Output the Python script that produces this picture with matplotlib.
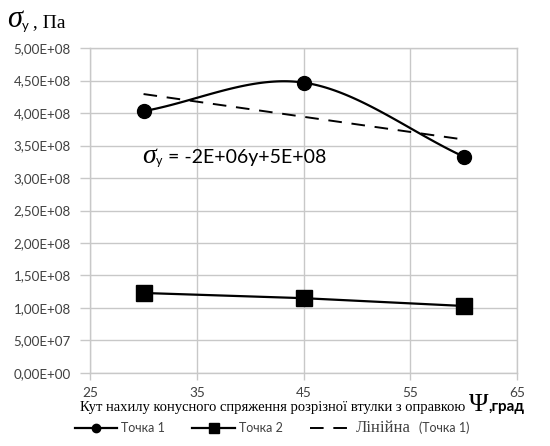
import matplotlib
import numpy as np

matplotlib.use("Agg")
import matplotlib.pyplot as plt
from matplotlib.lines import Line2D

# Кут нахилу, град
angles = [30, 45, 60]
# Напруження, Па
point1 = [4.03e8, 4.47e8, 3.33e8]
point2 = [1.23e8, 1.15e8, 1.03e8]

x_ticks = [25, 35, 45, 55, 65]
y_ticks = np.arange(0, 5.01e8, 0.5e8)

SANS = ["Lato", "DejaVu Sans"]
SERIF = ["Liberation Serif", "DejaVu Serif"]
GRID = "#c8c8c8"
TXT = "#404040"


def smooth_curve(xs, ys, n=60):
    """Catmull-Rom spline through the points, like a smoothed office line."""
    xs = np.asarray(xs, float)
    ys = np.asarray(ys, float)
    px = np.concatenate([[2 * xs[0] - xs[1]], xs, [2 * xs[-1] - xs[-2]]])
    py = np.concatenate([[2 * ys[0] - ys[1]], ys, [2 * ys[-1] - ys[-2]]])
    out_x, out_y = [], []
    t = np.linspace(0, 1, n)
    for i in range(1, len(px) - 2):
        for p, out in ((px, out_x), (py, out_y)):
            p0, p1, p2, p3 = p[i - 1], p[i], p[i + 1], p[i + 2]
            seg = 0.5 * ((2 * p1) + (-p0 + p2) * t + (2 * p0 - 5 * p1 + 4 * p2 - p3) * t**2
                         + (-p0 + 3 * p1 - 3 * p2 + p3) * t**3)
            out.extend(seg)
    return np.array(out_x), np.array(out_y)


def sci_label(v):
    mant, exp = f"{v:.2E}".split("E")
    return f"{mant.replace('.', ',')}E{exp}"


def text_run(fig, x, y, parts):
    """Write text pieces with different fonts one after another on a common baseline (figure fraction)."""
    renderer = fig.canvas.get_renderer()
    W, H = fig.bbox.width, fig.bbox.height
    for s, dy, kw in parts:
        t = fig.text(x, y + dy / H, s, va="baseline", ha="left", **kw)
        x = t.get_window_extent(renderer).x1 / W
    return x


fig = plt.figure(figsize=(5.5, 4.46), dpi=100)
ax = fig.add_axes([0.164, 0.164, 0.776, 0.728])

sx, sy = smooth_curve(angles, point1)
ax.plot(sx, sy, color="black", linewidth=1.6, zorder=3)
ax.plot(angles, point1, "o", color="black", markersize=10, zorder=4)
ax.plot(angles, point2, "-s", color="black", linewidth=1.6, markersize=11, zorder=4)

slope, intercept = np.polyfit(angles, point1, 1)
tx = np.array([angles[0], angles[-1]])
ax.plot(tx, slope * tx + intercept, color="black", linestyle=(0, (7, 5)), linewidth=1.4, zorder=2)

ax.set_xlim(25, 65)
ax.set_ylim(0, 5e8)
ax.set_xticks(x_ticks)
ax.set_yticks(y_ticks)
ax.set_xticklabels([str(v) for v in x_ticks], family=SANS, fontsize=9.8, color=TXT)
ax.set_yticklabels([sci_label(v) for v in y_ticks], family=SANS, fontsize=9.6, color=TXT)
ax.tick_params(axis="both", color=GRID, width=1)
ax.tick_params(axis="y", length=7, pad=7)
ax.tick_params(axis="x", length=5, pad=5)
ax.grid(True, color=GRID, linewidth=1)
for spine in ax.spines.values():
    spine.set_color(GRID)
    spine.set_linewidth(1)

# Trend equation inside the plot
ex, ey = fig.transFigure.inverted().transform(ax.transData.transform((29.9, 3.23e8)))
text_run(fig, ex, ey, [
    ("σ", 0, dict(family=SERIF, style="italic", fontsize=20)),
    ("y", -2, dict(family=SANS, fontsize=9)),
    (" = -2E+06y+5E+08", 0, dict(family=SANS, fontsize=14)),
])

# Y axis title
text_run(fig, 0.012, 0.94, [
    ("σ", 0, dict(family=SERIF, style="italic", fontsize=22)),
    ("y", -3, dict(family=SANS, fontsize=9.5)),
    (" , Па", 0, dict(family=SERIF, fontsize=14)),
])

# X axis title
text_run(fig, 0.146, 0.078, [
    ("Кут нахилу конусного спряження розрізної втулки з оправкою ", 0, dict(family=SERIF, fontsize=10.5)),
    ("Ψ", 0, dict(family=SERIF, fontsize=19)),
    (",град", 0, dict(family=SANS, fontsize=11, weight="bold")),
])

# Legend
handles = [
    Line2D([], [], color="black", marker="o", markersize=6, linewidth=1.6),
    Line2D([], [], color="black", marker="s", markersize=7, linewidth=1.6),
    Line2D([], [], color="black", linestyle=(0, (7, 5)), linewidth=1.4),
]
leg = fig.legend(handles, ["Точка 1", "Точка 2", "Лінійна"], loc="center left", bbox_to_anchor=(0.136, 0.04),
                 ncol=3, frameon=False, handlelength=3.4, handletextpad=0.3, columnspacing=2.2,
                 borderpad=0, borderaxespad=0, prop={"family": SANS, "size": 9})
texts = leg.get_texts()
texts[2].set_fontfamily(SERIF)
texts[2].set_fontsize(12)
for t in texts:
    t.set_color(TXT)
fig.canvas.draw()
bb = texts[2].get_window_extent(fig.canvas.get_renderer())
fig.text(bb.x1 / fig.bbox.width + 0.014, (bb.y0 + bb.y1) / 2 / fig.bbox.height, "(Точка 1)",
         family=SANS, fontsize=9, color=TXT, va="center", ha="left")

fig.savefig("out.png", dpi=100)
